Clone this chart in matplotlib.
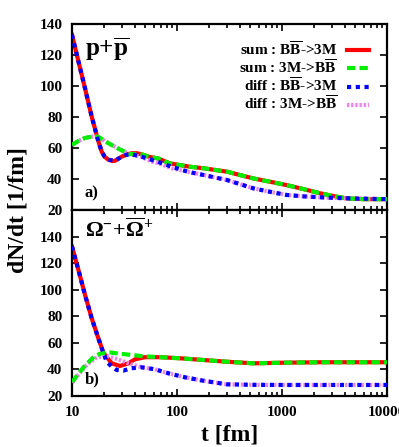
import matplotlib
matplotlib.use("Agg")
import matplotlib.pyplot as plt
from matplotlib.ticker import FixedLocator, LogLocator, NullFormatter

plt.rcParams.update({
    "font.family": "Liberation Serif",
    "font.weight": "bold",
    "mathtext.fontset": "custom",
    "mathtext.rm": "Liberation Serif",
    "mathtext.it": "Liberation Serif:italic",
    "mathtext.bf": "Liberation Serif:bold",
})

# ---- panel a) p + pbar ----
t_a_sum = [10, 11.5, 13.3, 15.3, 17.7, 19.2, 20.5, 22.2, 24.5, 25.7, 29.7, 33, 37, 41,
           46, 55, 66, 85, 130, 180, 300, 530, 800, 1100, 1600, 2300, 3200, 4100, 6000, 10000]
a_sum_bb = [133, 116, 98.5, 81, 65, 57.5, 54.3, 52.4, 51.6, 51.8, 54.4, 55.8, 56.6, 56.7,
            55.9, 54.2, 53.3, 50.1, 48, 46.9, 44.7, 40.4, 38, 36.1, 33.5, 30.8, 28.8, 27.5, 27, 27]
t_a_sum_3m = [10, 11.5, 13.3, 15.4, 16.5, 17.8, 20.6, 23, 25.7, 28.6, 31.9, 35, 41,
              46, 55, 66, 85, 130, 180, 300, 530, 800, 1100, 1600, 2300, 3200, 4100, 6000, 10000]
a_sum_3m = [62, 64.5, 66.5, 67.3, 67.4, 67.2, 64.5, 62.5, 60.8, 59, 57.6, 56, 56.2,
            55.9, 54.2, 53.3, 50.1, 48, 46.9, 44.7, 40.4, 38, 36.1, 33.5, 30.8, 28.8, 27.5, 27, 27]
t_a_diff = [10, 11.5, 13.3, 15.3, 17.7, 19.2, 20.5, 22.2, 25.7, 29.7, 33, 37, 41, 46, 57.5, 66, 89,
            130, 178, 297, 532, 800, 1104, 1600, 2300, 3200, 5000, 10000]
a_diff_bb = [133, 116, 98.5, 81, 65, 57.5, 54.3, 52.4, 51.8, 54.4, 55.6, 56, 55.2, 54.4, 52.3, 51,
             47.9, 44.5, 42.6, 39.4, 34, 31.5, 29.7, 28.8, 28.2, 27.8, 27.4, 27]
t_a_diff_3m = [10, 11.5, 13.3, 15.4, 16.5, 17.8, 20.6, 23, 25.7, 28.6, 31.9, 35, 41, 46, 57.5, 66, 89,
               130, 178, 297, 532, 800, 1104, 1600, 2300, 3200, 5000, 10000]
a_diff_3m = [62, 64.5, 66.5, 67.3, 67.4, 67.2, 64.5, 62.5, 60.8, 59, 57.6, 56, 55, 54.2, 51.2, 50.3,
             46.9, 44.5, 42.6, 39.4, 34, 31.5, 29.7, 28.8, 28.2, 27.8, 27.4, 27]

# ---- panel b) Omega + anti-Omega ----
t_b_sum = [10, 11.5, 13.3, 15.4, 17.8, 19.9, 20.6, 23.9, 28.6, 34.4, 39.8, 49.5, 68.8, 106.8, 178,
           297, 532, 1104, 2307, 10000]
b_sum_bb = [132.5, 114.9, 96.1, 78.5, 63.5, 52.5, 50.9, 44.6, 42.6, 44.6, 47.6, 49.2, 49.2, 48.4,
            47.1, 45.8, 44.6, 45.1, 45.4, 45.4]
t_b_sum_3m = [10, 11.9, 13.3, 14.8, 16.5, 18.5, 20.6, 23, 27.6, 37, 47.7, 68.8, 106.8, 178, 297, 532,
              1104, 2307, 10000]
b_sum_3m = [30.5, 38.3, 43, 46.5, 50.2, 51.8, 52.6, 52.8, 51.9, 50.9, 49.9, 49.2, 48.4, 47.1, 45.8,
            44.6, 45.1, 45.4, 45.4]
t_b_diff = [10, 11.5, 13.3, 15.4, 17.8, 19.9, 21.4, 23.9, 26.6, 30.8, 37, 46, 61.6, 82.6, 120, 178,
            297, 532, 1104, 2307, 10000]
b_diff_bb = [132.5, 114.9, 96.1, 78.5, 63.5, 52.5, 45.8, 42.1, 39.6, 39.1, 40.9, 41.6, 40.1, 37.1,
             34, 31.5, 28.8, 28.4, 28.3, 28.3, 28.3]
t_b_diff_3m = [10, 11.9, 13.3, 14.8, 16.5, 18.5, 22, 27.6, 34.4, 46, 61.6, 82.6, 120, 178, 297, 532,
               1104, 2307, 10000]
b_diff_3m = [30, 37.5, 42, 45.5, 48.2, 49.5, 50, 47.5, 44.6, 41.6, 40.1, 37.1, 34, 31.5, 28.8, 28.4,
             28.3, 28.3, 28.3]

labels = [r"sum : B$\overline{\mathbf{B}}$->3M", r"sum : 3M->B$\overline{\mathbf{B}}$",
          r"diff : B$\overline{\mathbf{B}}$->3M", r"diff : 3M->B$\overline{\mathbf{B}}$"]

fig = plt.figure(figsize=(3.99, 4.47), dpi=100)
ax_a = fig.add_axes([0.1805, 0.5302, 0.7895, 0.4161])
ax_b = fig.add_axes([0.1805, 0.1141, 0.7895, 0.4161])


def draw(ax, t_s, s_bb, t_s3, s_3m, t_d, d_bb, t_d3, d_3m):
    lw = 3
    h_red, = ax.plot(t_s, s_bb, color="#ff0000", lw=lw, zorder=2)
    h_vio, = ax.plot(t_d3, d_3m, color="#ee82ee", lw=lw, dashes=(0.55, 0.45), zorder=3)
    h_grn, = ax.plot(t_s3, s_3m, color="#00ee00", lw=lw, dashes=(2, 1), zorder=4)
    h_blu, = ax.plot(t_d, d_bb, color="#0000ff", lw=lw, dashes=(1, 1.1), zorder=5)
    return [h_red, h_grn, h_blu, h_vio]


handles = draw(ax_a, t_a_sum, a_sum_bb, t_a_sum_3m, a_sum_3m, t_a_diff, a_diff_bb, t_a_diff_3m, a_diff_3m)
draw(ax_b, t_b_sum, b_sum_bb, t_b_sum_3m, b_sum_3m, t_b_diff, b_diff_bb, t_b_diff_3m, b_diff_3m)

for ax, top in [(ax_a, 140), (ax_b, 160)]:
    ax.set_xscale("log")
    ax.set_xlim(10, 10000)
    ax.set_ylim(20, top)
    ax.yaxis.set_major_locator(FixedLocator([20, 40, 60, 80, 100, 120, 140]))
    ax.xaxis.set_minor_locator(LogLocator(base=10, subs=range(2, 10)))
    ax.xaxis.set_minor_formatter(NullFormatter())
    ax.tick_params(which="both", direction="in", top=True, right=True, labelsize=11, width=1.2)
    ax.tick_params(which="major", length=5, pad=7)
    ax.tick_params(which="minor", length=3)
    for sp in ax.spines.values():
        sp.set_linewidth(1.6)

ax_a.set_xticklabels([])
ax_b.set_xticks([10, 100, 1000, 10000])
ax_b.set_xticklabels(["10", "100", "1000", "10000"])

ax_a.text(0.04, 0.83, r"$\mathbf{p}\mathbf{+}\overline{\mathbf{p}}$", transform=ax_a.transAxes,
          fontsize=18)
ax_b.text(0.04, 0.855, r"$\Omega^{-}{+}\overline{\Omega}^{+}$", transform=ax_b.transAxes,
          fontsize=16, fontweight="normal")
ax_a.text(0.04, 0.07, "a)", transform=ax_a.transAxes, fontsize=12)
ax_b.text(0.04, 0.07, "b)", transform=ax_b.transAxes, fontsize=12)

ax_a.legend(handles, labels, loc="upper right", bbox_to_anchor=(0.985, 0.985), frameon=False,
            markerfirst=False, handlelength=1.4, handletextpad=0.65, labelspacing=0.0,
            prop={"family": "Liberation Serif", "weight": "bold", "size": 11})

fig.text(0.045, 0.53, "dN/dt [1/fm]", rotation=90, ha="center", va="center", fontsize=17)
fig.text(0.575, 0.027, "t [fm]", ha="center", va="center", fontsize=17)

fig.savefig("out.png", dpi=100)
